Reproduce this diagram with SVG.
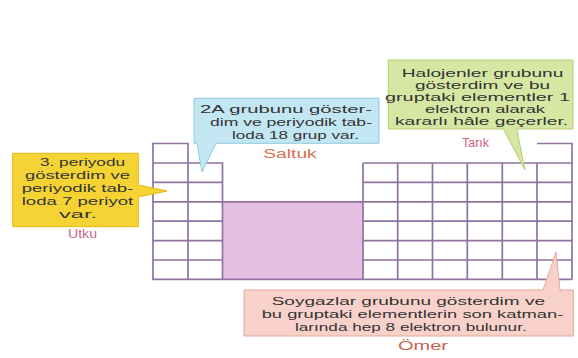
<svg xmlns="http://www.w3.org/2000/svg" width="578" height="358" viewBox="0 0 578 358">
<style>
text{font-family:"Liberation Sans",Arial,sans-serif;}
.t{fill:#333333;font-size:10.6px;}
.grid{fill:none;stroke:#8f73a0;stroke-width:1.7;}
.name{font-size:12px;}
</style>
<rect width="578" height="358" fill="#ffffff"/>
<g id="table">
<rect x="222.5" y="201.8" width="140.5" height="77.6" fill="#e5bfe2"/>
<path class="grid" d="M153,143.5H188V279.4H153Z M188,163H222.5V279.4 M153,163H222.5 M153,182.4H222.5 M153,201.8H363 M153,221.2H222.5 M153,240.6H222.5 M153,260H222.5 M153,279.4H572 M222.5,201.8V279.4 M363,163H537V279.4 M363,163V279.4 M397.7,163V279.4 M432.5,163V279.4 M467.3,163V279.4 M502.3,163V279.4 M537,143.5H572V279.4 M363,182.4H572 M363,201.8H572 M363,221.2H572 M363,240.6H572 M363,260H572 M537,163H572"/>
</g>
<g id="utku">
<path d="M12.7,153.3H138.3V185L167,191L138.3,197V226.7H12.7Z" fill="#f6d335" stroke="#e3b90f" stroke-width="1"/>
<text class="t" x="40" y="166" textLength="85" lengthAdjust="spacingAndGlyphs">3. periyodu</text>
<text class="t" x="25" y="179" textLength="105" lengthAdjust="spacingAndGlyphs">gösterdim ve</text>
<text class="t" x="21.7" y="192" textLength="111.6" lengthAdjust="spacingAndGlyphs">periyodik tab-</text>
<text class="t" x="21.7" y="205" textLength="111.6" lengthAdjust="spacingAndGlyphs">loda 7 periyot</text>
<text class="t" x="59" y="218" textLength="38" lengthAdjust="spacingAndGlyphs">var.</text>
<text class="name" x="68" y="238" textLength="29" lengthAdjust="spacingAndGlyphs" fill="#c46a86">Utku</text>
</g>
<g id="saltuk">
<path d="M194,98.3H379V143.3H216L202,172L197,143.3H194Z" fill="#c2e7f3" stroke="#8fcbe0" stroke-width="1"/>
<text class="t" x="200" y="113" textLength="172" lengthAdjust="spacingAndGlyphs">2A grubunu göster-</text>
<text class="t" x="210" y="126" textLength="162" lengthAdjust="spacingAndGlyphs">dim ve periyodik tab-</text>
<text class="t" x="232" y="138.5" textLength="127" lengthAdjust="spacingAndGlyphs">loda 18 grup var.</text>
<text class="name" x="263.3" y="158.3" textLength="53.4" lengthAdjust="spacingAndGlyphs" fill="#d4704e">Saltuk</text>
</g>
<g id="tarik">
<path d="M388.3,60H573V129H516.7L525,170L503.3,129H388.3Z" fill="#d6e7a3" stroke="#b6cd72" stroke-width="1"/>
<text class="t" x="401.7" y="77" textLength="161.7" lengthAdjust="spacingAndGlyphs">Halojenler grubunu</text>
<text class="t" x="415" y="89" textLength="135" lengthAdjust="spacingAndGlyphs">gösterdim ve bu</text>
<text class="t" x="385" y="101" textLength="185" lengthAdjust="spacingAndGlyphs">gruptaki elementler 1</text>
<text class="t" x="425" y="113" textLength="120" lengthAdjust="spacingAndGlyphs">elektron alarak</text>
<text class="t" x="395" y="125" textLength="173" lengthAdjust="spacingAndGlyphs">kararlı hâle geçerler.</text>
<text class="name" x="462" y="147" textLength="27" lengthAdjust="spacingAndGlyphs" fill="#d0607a">Tarık</text>
</g>
<g id="omer">
<path d="M244,290H543L556,252L560,290H573.3V336H244Z" fill="#f8d2ca" stroke="#e6a898" stroke-width="1"/>
<text class="t" x="271.7" y="305" textLength="273.3" lengthAdjust="spacingAndGlyphs">Soygazlar grubunu gösterdim ve</text>
<text class="t" x="261.7" y="318" textLength="301.6" lengthAdjust="spacingAndGlyphs">bu gruptaki elementlerin son katman-</text>
<text class="t" x="295" y="331" textLength="231.7" lengthAdjust="spacingAndGlyphs">larında hep 8 elektron bulunur.</text>
<text class="name" x="398" y="350" textLength="50" lengthAdjust="spacingAndGlyphs" fill="#c8624e">Ömer</text>
</g>
</svg>
